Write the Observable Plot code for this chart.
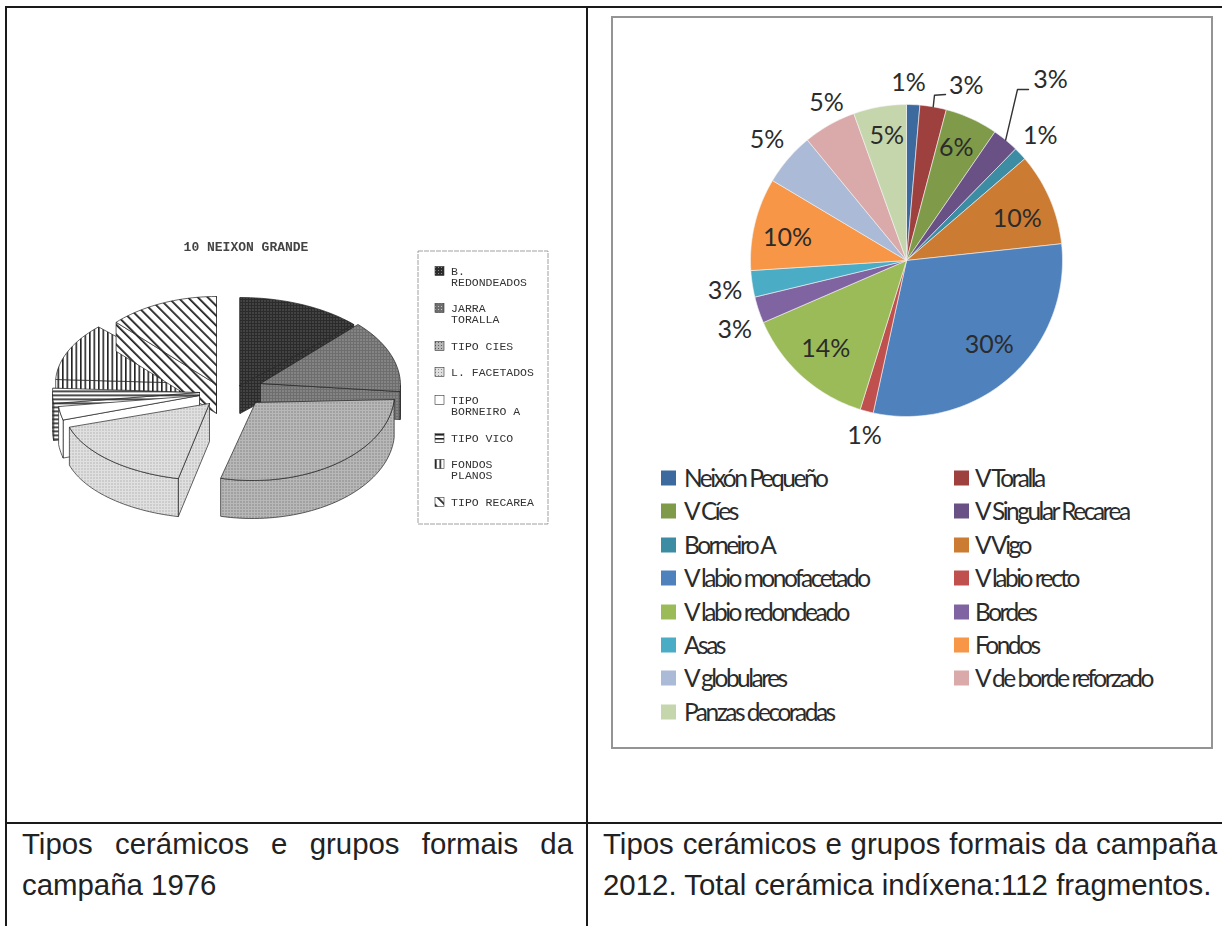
<!DOCTYPE html>
<html><head><meta charset="utf-8">
<script src="https://cdn.jsdelivr.net/npm/d3@7"></script>
<script src="https://cdn.jsdelivr.net/npm/@observablehq/plot@0.6"></script>
<style>
html,body{margin:0;background:#fff}
#page{position:relative;width:1222px;height:926px;overflow:hidden;background:#fff}
.rule{position:absolute;background:#1a1a1a}
#frame{position:absolute;left:611px;top:16px;width:598px;height:729px;border:2px solid #949494}
.plot{position:absolute}
.plot svg{display:block;background:transparent}
.cap{position:absolute;font:29.4px/41px "Liberation Sans",Arial,sans-serif;color:#222;white-space:nowrap}
.cap .j{text-align:justify;text-align-last:justify}
.lg{position:absolute;font:24.5px "Lato",sans-serif;letter-spacing:-2.5px;color:#2b2b2b;white-space:nowrap;line-height:28px;transform:translateY(-14px)}
.sw{position:absolute;width:15px;height:15px;transform:translateY(-7.5px)}
</style></head>
<body><div id="page">
<div class="rule" style="left:5px;top:6px;width:1217px;height:2px"></div>
<div class="rule" style="left:5px;top:6px;width:2px;height:920px"></div>
<div class="rule" style="left:586px;top:6px;width:2px;height:920px"></div>
<div class="rule" style="left:5px;top:822px;width:1217px;height:2px"></div>
<div id="frame"></div>
<div id="left" class="plot" style="left:30px;top:210px;filter:blur(.45px)"></div>
<div id="right" class="plot" style="left:613px;top:18px"></div>
<div id="legend"></div>
<div class="cap" style="left:22px;top:823px;width:551px"><div class="j">Tipos cerámicos e grupos formais da</div><div>campaña 1976</div></div>
<div class="cap" style="left:603px;top:823px;width:614px"><div class="j">Tipos cerámicos e grupos formais da campaña</div><div>2012. Total cerámica indíxena:112 fragmentos.</div></div>
</div>
<script>
// ---------- data: 2012 campaign ----------
const names2012 = ["Neixón Pequeño","V Toralla","V Cíes","V Singular Recarea","Borneiro A","V Vigo","V labio monofacetado","V labio recto","V labio redondeado","Bordes","Asas","Fondos","V globulares","V de borde reforzado","Panzas decoradas"];
const counts2012 = [1,2,4,2,1,7,22,1,10,2,2,7,4,4,4];
const labels2012 = ["1%","3%","6%","3%","1%","10%","30%","1%","14%","3%","3%","10%","5%","5%","5%"];
const colors2012 = ["#3d6a9e","#9e413e","#7f9a48","#695185","#3c8da3","#cc7b33","#4f81bd","#c0504d","#9bbb59","#8064a2","#4bacc6","#f79646","#aabad7","#d9aaa9","#c6d6ac"];
// ---------- data: 1976 campaign ----------
const title1976 = "10 NEIXON GRANDE";
const names1976 = ["B.\nREDONDEADOS","JARRA\nTORALLA","TIPO CIES","L. FACETADOS","TIPO\nBORNEIRO A","TIPO VICO","FONDOS\nPLANOS","TIPO RECAREA"];
const shares1976 = [12.8,13.3,27.5,16.9,2.5,2.8,11.7,12.5];

// ---------- 2012 pie ----------
const W2 = 598, H2 = 729, ox = 613, oy = 18;
const C = {x:906,y:260,r:156};
const total = d3.sum(counts2012);
let acc = 0;
const slices = counts2012.map((v,i)=>{const a0=acc/total*360; acc+=v; return {i,name:names2012[i],label:labels2012[i],a0,a1:acc/total*360};});
const polar=(a,r)=>({x:C.x+r*Math.sin(a*Math.PI/180),y:C.y-r*Math.cos(a*Math.PI/180)});
const wedge=s=>{const p=[{x:C.x,y:C.y}];const n=Math.max(2,Math.ceil((s.a1-s.a0)/1.5));for(let k=0;k<=n;k++)p.push(polar(s.a0+(s.a1-s.a0)*k/n,C.r));p.push({x:C.x,y:C.y});return p.map(q=>({...q,name:s.name}));};
// label placement: radial factor and angular nudge per slice
const labelRho=[1.135,1.18,.786,1.478,1.17,.76,.76,1.154,.77,1.188,1.18,.776,1.18,1.135,.805];
const labelNudge=[-1.8,9.1,-.7,-.8,.3,2.7,-2.3,-1.3,.3,-3.6,-.8,-3,0,2.7,.8];
const labelPts=slices.map(s=>({...polar((s.a0+s.a1)/2+labelNudge[s.i],C.r*labelRho[s.i]),label:s.label}));
const mid=s=>(s.a0+s.a1)/2;
const leaders=[
 [polar(mid(slices[1]),C.r),{x:C.x+28,y:C.y-165.3},{x:C.x+39,y:C.y-166}],
 [polar(mid(slices[3]),C.r),{x:C.x+111,y:C.y-171},{x:C.x+122,y:C.y-171}]
];
const right=Plot.plot({
  width:W2,height:H2,margin:0,
  x:{domain:[ox,ox+W2],axis:null},y:{domain:[oy+H2,oy],axis:null},
  color:{domain:names2012,range:colors2012},
  marks:[
    Plot.line(slices.flatMap(wedge),{x:"x",y:"y",z:"name",fill:"name",stroke:"#f4f4f4",strokeWidth:.6}),
    ...leaders.map(l=>Plot.line(l,{x:"x",y:"y",stroke:"#333",strokeWidth:1.4})),
    Plot.text(labelPts,{x:"x",y:"y",text:"label",fontSize:25,fill:"#2b2b2b",fontFamily:"Lato",style:{letterSpacing:"-1.1px"}})
  ]
});
document.getElementById("right").append(right);

// legend 2012
const lg=document.getElementById("legend");
const rowY=[478,511.4,544.8,578.2,611.6,645,678.4,711.8];
names2012.forEach((n,i)=>{
  const col=i%2,row=Math.floor(i/2);
  const sx=col?954:661, tx=col?975:684;
  const sw=document.createElement("div");sw.className="sw";sw.style.cssText=`left:${sx}px;top:${rowY[row]}px;background:${colors2012[i]}`;
  const t=document.createElement("div");t.className="lg";t.style.cssText=`left:${tx}px;top:${rowY[row]}px`;t.textContent=n;
  lg.append(sw,t);
});

// ---------- 1976 pseudo-3D pie ----------
// per-slice layout: rim ellipse centre and radii, apex, wall depth
const rim=[[239.5,385,158,88],[248,385,152,88],[252,393,142,87],[211,406,148,74],[199,395,142,88],[199,392,147,88],[202,383,147,80],[216,384,142,88]];
const apex=[[239.5,385],[260,383],[255,402],[209,403],[199,395],[199,392],[202,383],[216,384]];
const depth=[28,28,38,38,38,37,14,29];
const patterns=["url(#pDark)","url(#pTor)","url(#pCies)","url(#pFac)","#fff","url(#pVigo)","url(#pFond)","url(#pRec)"];
const sum76=d3.sum(shares1976);let acc76=0;
const s76=shares1976.map((v,i)=>{const t0=acc76/sum76*360;acc76+=v;return {i,t0,t1:acc76/sum76*360,fill:patterns[i],cx:rim[i][0],cy:rim[i][1],rx:rim[i][2],ry:rim[i][3],A:{x:apex[i][0],y:apex[i][1]},d:depth[i]};});
const ell=(s,t,d=0)=>({x:s.cx+s.rx*Math.sin(t*Math.PI/180),y:s.cy-s.ry*Math.cos(t*Math.PI/180)+d});
const arcPts=(s,a,b,d=0)=>{const n=Math.max(1,Math.ceil((b-a)/2)),p=[];for(let k=0;k<=n;k++)p.push(ell(s,a+(b-a)*k/n,d));return p;};
const close=p=>[...p,p[0]];
function faces(s){
  const A=s.A,Ad={x:A.x,y:A.y+s.d},out=[];
  const sn=t=>Math.sin(t*Math.PI/180);
  if(sn(s.t0)<=.001) out.push(close([A,ell(s,s.t0),ell(s,s.t0,s.d),Ad]));
  if(sn(s.t1)>=-.001) out.push(close([A,ell(s,s.t1),ell(s,s.t1,s.d),Ad]));
  const a=Math.max(s.t0,90),b=Math.min(s.t1,270);
  if(b>a) out.push(close([...arcPts(s,a,b),...arcPts(s,a,b,s.d).reverse()]));
  out.push(close([A,...arcPts(s,s.t0,s.t1)]));
  return out.map(pts=>({pts,fill:s.fill}));
}
const order=[6,7,5,4,3,0,1,2];
const polys=order.flatMap(i=>faces(s76[i]));
const swY=[271,308,346,372,400,438,464,502];
const box=[{x1:418,x2:548,y1:251,y2:524}];
const legendRows=names1976.map((n,i)=>({x:450.6,y:swY[i],text:n}));
const swatches=names1976.map((n,i)=>({x1:435,x2:444,y1:swY[i]-4.5,y2:swY[i]+4.5,fill:patterns[i]}));
const left=Plot.plot({
  width:530,height:320,margin:0,
  x:{domain:[30,560],axis:null},y:{domain:[530,210],axis:null},
  marks:[
    ...polys.map(p=>Plot.line(p.pts,{x:"x",y:"y",fill:p.fill,stroke:"#222",strokeWidth:.7})),
    Plot.text([title1976],{x:()=>245.5,y:()=>246,text:d=>d,fontFamily:"Liberation Mono",fontWeight:"bold",fontSize:13,fill:"#444",style:{letterSpacing:".2px"}}),
    Plot.rect(box,{x1:"x1",x2:"x2",y1:"y1",y2:"y2",fill:"none",stroke:"#888",strokeDasharray:"5 1",strokeWidth:.8}),
    ...swatches.map(s=>Plot.rect([s],{x1:"x1",x2:"x2",y1:"y1",y2:"y2",fill:s.fill,stroke:"#333",strokeWidth:.6})),
    Plot.text(legendRows,{x:"x",y:"y",text:"text",textAnchor:"start",lineAnchor:"top",dy:-5,lineHeight:1,fontFamily:"Liberation Mono",fontSize:11.5,fill:"#333",style:{letterSpacing:".2px"}})
  ]
});
left.insertAdjacentHTML("afterbegin",`<defs>
<pattern id="pDark" width="3" height="3" patternUnits="userSpaceOnUse"><rect width="3" height="3" fill="#2b2b2b"/><rect width="1" height="1" fill="#8a8a8a"/></pattern>
<pattern id="pTor" width="3" height="3" patternUnits="userSpaceOnUse"><rect width="3" height="3" fill="#6e6e6e"/><rect width="1" height="1" fill="#c4c4c4"/></pattern>
<pattern id="pCies" width="3" height="3" patternUnits="userSpaceOnUse"><rect width="3" height="3" fill="#b8b8b8"/><rect width="1" height="1" fill="#5c5c5c"/></pattern>
<pattern id="pFac" width="3" height="3" patternUnits="userSpaceOnUse"><rect width="3" height="3" fill="#e0e0e0"/><rect width="1" height="1" fill="#8f8f8f"/></pattern>
<pattern id="pVigo" width="4" height="4" patternUnits="userSpaceOnUse"><rect width="4" height="4" fill="#fff"/><rect width="4" height="1.6" fill="#222"/></pattern>
<pattern id="pFond" width="4.5" height="4.5" patternUnits="userSpaceOnUse"><rect width="4.5" height="4.5" fill="#fff"/><rect width="1.6" height="4.5" fill="#222"/></pattern>
<pattern id="pRec" width="7" height="7" patternUnits="userSpaceOnUse" patternTransform="rotate(-45)"><rect width="7" height="7" fill="#fff"/><rect width="1.8" height="7" fill="#222"/></pattern>
</defs>`);
document.getElementById("left").append(left);
</script></body></html>
